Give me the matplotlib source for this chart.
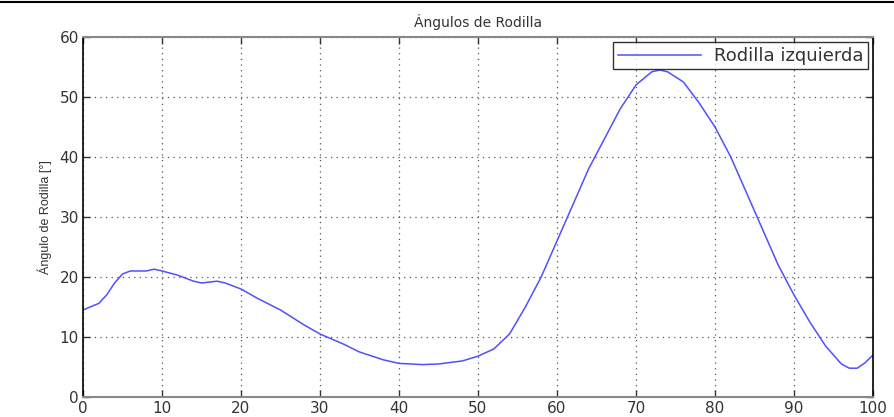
import matplotlib.pyplot as plt
from matplotlib.lines import Line2D

# porcentaje del ciclo de marcha y angulo de rodilla
ciclo = [0, 2, 3, 4, 5, 6, 8, 9, 10, 12, 14, 15, 17, 18, 20, 22, 25, 28, 30,
         33, 35, 38, 40, 43, 45, 48, 50, 52, 54, 56, 58, 60, 62, 64, 66, 68,
         70, 72, 73, 74, 76, 78, 80, 82, 84, 86, 88, 90, 92, 94, 96, 97, 98,
         99, 100]
rodilla = [14.5, 15.6, 17.0, 19.0, 20.5, 21.0, 21.0, 21.3, 21.0, 20.3, 19.3,
           19.0, 19.3, 19.0, 18.0, 16.5, 14.5, 12.0, 10.5, 8.8, 7.5, 6.2, 5.6,
           5.4, 5.5, 6.0, 6.8, 8.0, 10.5, 15.0, 20.0, 26.0, 32.0, 38.0, 43.0,
           48.0, 52.0, 54.2, 54.5, 54.2, 52.5, 49.0, 45.0, 40.0, 34.0, 28.0,
           22.0, 17.0, 12.5, 8.5, 5.5, 4.8, 4.8, 5.7, 7.0]
xticks = list(range(0, 101, 10))
yticks = list(range(0, 61, 10))

plt.rcParams['font.family'] = ['DejaVu Sans']

fig = plt.figure(figsize=(8.95, 4.17), dpi=100)
ax = fig.add_axes([0.0927, 0.048, 0.8827, 0.8633])

ax.plot(ciclo, rodilla, color='#5050ff', lw=1.1, label='Rodilla izquierda')

ax.set_xlim(0, 100)
ax.set_ylim(0, 60)
ax.set_xticks(xticks)
ax.set_yticks(yticks)
ax.tick_params(direction='in', length=5, width=1, labelsize=11, pad=3,
               colors='#333333', top=True, right=True)
ax.grid(True, linestyle=(0, (1, 3.5)), color='#555555', lw=0.9)
for s in ['left', 'right']:
    ax.spines[s].set_color('black')
    ax.spines[s].set_linewidth(1.2)
for s in ['top', 'bottom']:
    ax.spines[s].set_color('#888888')
    ax.spines[s].set_linewidth(1.5)

ax.set_title('Ángulos de Rodilla', fontsize=10, color='#333333', pad=7)
ax.set_ylabel('Ángulo de Rodilla [°]', fontsize=9,
              family=['Liberation Sans Narrow', 'Liberation Sans', 'DejaVu Sans'],
              color='#333333', labelpad=5)

leg = ax.legend(loc='upper right', fontsize=13, frameon=True, fancybox=False,
                borderaxespad=0.3, handlelength=4.6, borderpad=0.25,
                handletextpad=0.7)
leg.get_frame().set_edgecolor('black')
leg.get_frame().set_linewidth(1.0)
for t in leg.get_texts():
    t.set_color('#333333')

fig.add_artist(Line2D([0, 1], [0.996, 0.996], transform=fig.transFigure,
                      color='black', lw=1.5))

fig.savefig('out.png', dpi=100)
